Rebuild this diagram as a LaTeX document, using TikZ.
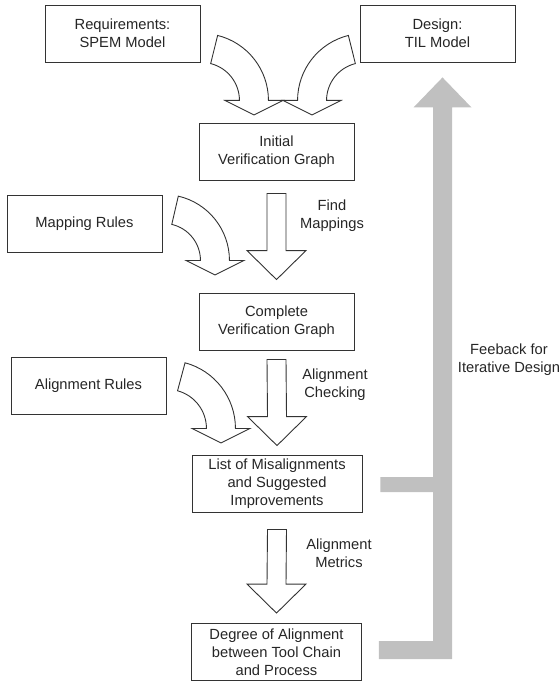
\documentclass[tikz,border=0pt]{standalone}
\usepackage{fontspec}
\setmainfont{Liberation Sans}
\usetikzlibrary{calc}

\definecolor{inkline}{HTML}{333333}
\definecolor{inktext}{HTML}{262626}
\definecolor{feedgray}{HTML}{C0C0C0}

\tikzset{
  box/.style={draw=inkline, line width=0.9pt, fill=white, minimum height=57pt,
    inner sep=0pt, align=center, text=inktext,
    font=\fontsize{14.7}{18}\selectfont},
  boxwide/.style={box, minimum width=170pt},
  boxstd/.style={box, minimum width=155pt},
  caption/.style={align=center, text=inktext, inner sep=0pt,
    font=\fontsize{14.7}{18}\selectfont},
  arrowline/.style={draw=inkline, line width=0.9pt, fill=white, line join=miter},
}

% hollow block arrow pointing down, from its top (#1) to its tip (#2)
\newcommand{\blkarrow}[2]{%
  \draw[arrowline] ($#1+(-9.5,0)$) -- ($#1+(9.5,0)$) -- ($#2+(9.5,-29)$)
    -- ($#2+(29.5,-29)$) -- #2 -- ($#2+(-29.5,-29)$) -- ($#2+(-9.5,-29)$) -- cycle;}

% hollow curved arrow: #1 arc centre, #2 outer radius, #3 inner radius,
% #4 angle of the tail, #5 extra transform (e.g. xscale=-1)
\newcommand{\bentarrow}[5]{%
  \begin{scope}[shift={#1}, #5]
    \draw[arrowline] (#4:#2) arc[start angle=#4, end angle=0, radius=#2]
      -- ({(#2+#3)/2+29},0) -- ({(#2+#3)/2},14.5) -- ({(#2+#3)/2-29},0)
      -- (#3,0) arc[start angle=0, end angle=#4, radius=#3] -- cycle;
  \end{scope}}

\begin{document}
\begin{tikzpicture}[x=1pt, y=-1pt]
  \useasboundingbox (0,0) rectangle (559,682);

  % boxes
  \node[boxstd]  (req)      at (122.5,33.5) {Requirements:\\SPEM Model};
  \node[boxstd]  (design)   at (437.5,33.5) {Design:\\TIL Model};
  \node[boxstd]  (init)     at (276.5,151.5) {Initial\\Verification Graph};
  \node[boxstd]  (maprules) at (84.5,223.5) {Mapping Rules};
  \node[boxstd]  (complete) at (276.5,321.5) {Complete\\Verification Graph};
  \node[boxstd]  (alrules)  at (88.5,385.5) {Alignment Rules};
  \node[boxwide] (list)     at (277,483.5) {List of Misalignments\\and Suggested\\Improvements};
  \node[boxwide] (degree)   at (276.5,652) {Degree of Alignment\\between Tool Chain\\and Process};

  % feedback arrow back to the design
  \coordinate (fbtop) at ($(design.south)+(5,15)$);
  \fill[feedgray]
    ($(list.east)+(18,-6.5)$) -- ($(list.east -| fbtop)+(-9.5,-6.5)$)
    -- ($(fbtop)+(-9.5,30)$) -- ($(fbtop)+(-29,30)$) -- (fbtop)
    -- ($(fbtop)+(29,30)$) -- ($(fbtop)+(9.5,30)$)
    -- ($(degree.east -| fbtop)+(9.5,7)$) -- ($(degree.east)+(17,7)$)
    -- ($(degree.east)+(17,-11)$) -- ($(degree.east -| fbtop)+(-9.5,-11)$)
    -- ($(list.east -| fbtop)+(-9.5,8.5)$) -- ($(list.east)+(18,8.5)$) -- cycle;
  \node[caption] (fblabel) at (509,360) {Feeback for\\Iterative Design};

  % curved arrows from the models and rule sets
  \bentarrow{($(req.south east)+(1,38)$)}{67}{38}{-76}{}
  \bentarrow{($(design.south west)+(5,38)$)}{67}{38}{-76}{xscale=-1}
  \bentarrow{($(maprules.south east)+(1,8)$)}{66}{37}{-77}{}
  \bentarrow{($(alrules.south east)+(1,14)$)}{68}{39}{-75}{}

  % straight steps
  \blkarrow{($(init.south)+(0,13)$)}{($(complete.north)+(0,-13)$)}
  \blkarrow{($(complete.south)+(0,9)$)}{($(list.north)+(0,-9)$)}
  \blkarrow{($(list.south)+(0,17)$)}{($(degree.north)+(0,-10)$)}

  \node[caption] (lfind)    at (332,216) {Find\\Mappings};
  \node[caption] (lcheck)   at (335,384.5) {Alignment\\Checking};
  \node[caption] (lmetrics) at (339,553) {Alignment\\Metrics};
\end{tikzpicture}
\end{document}
